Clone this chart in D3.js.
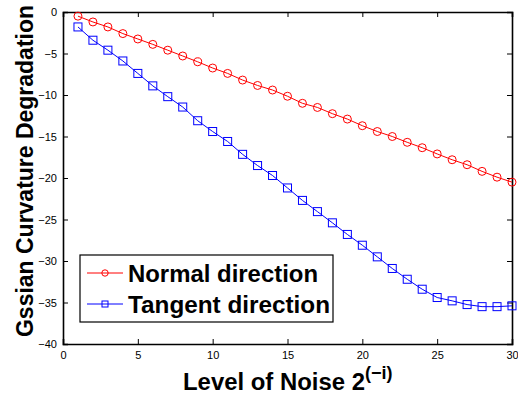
<!DOCTYPE html>
<html>
<head>
<meta charset="utf-8">
<script src="https://cdn.jsdelivr.net/npm/d3@7"></script>
<style>
  body { margin: 0; background: #fff; }
  svg { font-family: 'Liberation Sans', Arial, sans-serif; }
</style>
</head>
<body>
<svg id="chart" width="518" height="398"></svg>
<script>
const levels = d3.range(1, 31);
const normalDir = [-0.5, -1.2, -1.8, -2.6, -3.25, -3.9, -4.6, -5.3, -6.0, -6.75,
  -7.4, -8.2, -8.85, -9.4, -10.15, -11.0, -11.5, -12.25, -12.9, -13.7,
  -14.4, -15.0, -15.7, -16.35, -17.1, -17.8, -18.4, -19.2, -19.9, -20.5];
const tangentDir = [-1.8, -3.4, -4.6, -5.9, -7.4, -8.9, -10.2, -11.45, -13.1, -14.4,
  -15.6, -17.15, -18.5, -19.7, -21.2, -22.7, -24.05, -25.4, -26.8, -28.1,
  -29.5, -30.9, -32.2, -33.4, -34.4, -34.8, -35.25, -35.5, -35.5, -35.4];
const xTicks = [0, 5, 10, 15, 20, 25, 30];
const yTicks = [0, -5, -10, -15, -20, -25, -30, -35, -40];

const svg = d3.select('#chart');
const margin = { left: 63, right: 6, top: 12, bottom: 54 };
const width = 518, height = 398;

const x = d3.scaleLinear().domain([0, 30]).range([margin.left, width - margin.right]);
const y = d3.scaleLinear().domain([-40, 0]).range([height - margin.bottom, margin.top]);

const fmt = d => String(d).replace('-', '\u2212');

// axes, ticks pointing inward
const tick = 5;
svg.append('g')
  .attr('transform', `translate(0,${y(-40)})`)
  .call(d3.axisBottom(x).tickValues(xTicks).tickSize(-tick).tickPadding(7).tickFormat(fmt));
svg.append('g')
  .attr('transform', `translate(0,${y(0)})`)
  .call(d3.axisTop(x).tickValues(xTicks).tickSize(-tick).tickFormat(''));
svg.append('g')
  .attr('transform', `translate(${x(0)},0)`)
  .call(d3.axisLeft(y).tickValues(yTicks).tickSize(-tick).tickPadding(6).tickFormat(fmt));
svg.append('g')
  .attr('transform', `translate(${x(30)},0)`)
  .call(d3.axisRight(y).tickValues(yTicks).tickSize(-tick).tickFormat(''));

svg.selectAll('.domain').attr('stroke', '#000').attr('stroke-width', 1.6);
svg.selectAll('.tick line').attr('stroke', '#000');
svg.selectAll('.tick text').attr('font-size', 11).attr('fill', '#000')
  .attr('font-family', "'Liberation Sans', Arial, sans-serif");

const line = d3.line().x((d, i) => x(levels[i])).y(d => y(d));

// normal direction
svg.append('path').datum(normalDir)
  .attr('d', line).attr('fill', 'none').attr('stroke', '#ff0000').attr('stroke-width', 1);
svg.append('g').selectAll('circle').data(normalDir).join('circle')
  .attr('cx', (d, i) => x(levels[i])).attr('cy', d => y(d)).attr('r', 4)
  .attr('fill', 'none').attr('stroke', '#ff0000').attr('stroke-width', 1);

// tangent direction
svg.append('path').datum(tangentDir)
  .attr('d', line).attr('fill', 'none').attr('stroke', '#0000ff').attr('stroke-width', 1);
svg.append('g').selectAll('rect').data(tangentDir).join('rect')
  .attr('x', (d, i) => x(levels[i]) - 4).attr('y', d => y(d) - 4)
  .attr('width', 8).attr('height', 8)
  .attr('fill', 'none').attr('stroke', '#0000ff').attr('stroke-width', 1);

// legend
const legend = svg.append('g');
legend.append('rect').attr('x', 80).attr('y', 255).attr('width', 253).attr('height', 67)
  .attr('fill', '#fff').attr('stroke', '#000').attr('stroke-width', 1.2);
const items = [
  { label: 'Normal direction', color: '#ff0000', shape: 'circle', yy: 273, len: 190 },
  { label: 'Tangent direction', color: '#0000ff', shape: 'square', yy: 304, len: 202 }
];
items.forEach(it => {
  legend.append('line').attr('x1', 87).attr('x2', 123).attr('y1', it.yy).attr('y2', it.yy)
    .attr('stroke', it.color).attr('stroke-width', 1);
  if (it.shape === 'circle') {
    legend.append('circle').attr('cx', 105).attr('cy', it.yy).attr('r', 3.2)
      .attr('fill', 'none').attr('stroke', it.color);
  } else {
    legend.append('rect').attr('x', 102).attr('y', it.yy - 3).attr('width', 6).attr('height', 6)
      .attr('fill', 'none').attr('stroke', it.color);
  }
  legend.append('text').attr('x', 128).attr('y', it.yy + 9)
    .attr('font-size', 24).attr('font-weight', 'bold')
    .attr('textLength', it.len).attr('lengthAdjust', 'spacingAndGlyphs')
    .text(it.label);
});

// axis labels
const xl = svg.append('text')
  .attr('x', 183).attr('y', 390)
  .attr('font-size', 23).attr('font-weight', 'bold');
xl.append('tspan').attr('textLength', 182).attr('lengthAdjust', 'spacingAndGlyphs')
  .text('Level of Noise 2');
xl.append('tspan').attr('dy', -11).attr('font-size', 18).text('(\u2212i)');

svg.append('text')
  .attr('transform', `translate(33,171) rotate(-90)`)
  .attr('text-anchor', 'middle').attr('font-size', 23).attr('font-weight', 'bold')
  .attr('textLength', 332).attr('lengthAdjust', 'spacingAndGlyphs')
  .text('Gssian Curvature Degradation');
</script>
</body>
</html>
